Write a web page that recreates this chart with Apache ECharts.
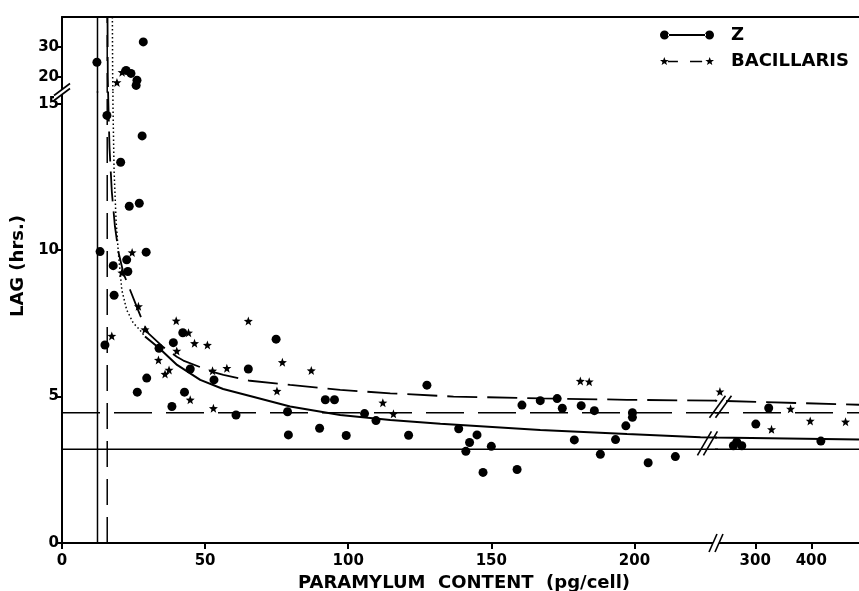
<!DOCTYPE html>
<html>
<head>
<meta charset="utf-8">
<title>Lag vs paramylum content</title>
<script src="https://cdn.jsdelivr.net/npm/echarts@6/dist/echarts.min.js"></script>
<style>
  html, body { margin: 0; padding: 0; background: #fff; }
  #main { width: 859px; height: 591px; }
</style>
</head>
<body>
<div id="main"></div>
<script>
// [paramylum content (pg/cell), lag (hrs.)]
var zPoints = [
  [15.7, 14.6], [28.0, 13.9], [20.5, 13.0], [23.5, 11.5], [27.0, 11.6], [13.3, 9.95],
  [29.4, 9.93], [22.6, 9.67], [17.9, 9.47], [23.0, 9.27], [18.2, 8.46], [15.0, 6.76],
  [42.2, 7.18], [38.9, 6.84], [33.9, 6.65], [44.8, 5.94], [65.1, 5.94], [29.6, 5.63],
  [53.1, 5.57], [26.3, 5.15], [42.8, 5.15], [38.4, 4.66], [60.8, 4.37], [74.8, 6.96],
  [92.0, 4.89], [95.2, 4.89], [127.5, 5.39], [78.8, 4.48], [105.7, 4.42], [109.7, 4.18],
  [90.0, 3.92], [79.1, 3.69], [99.3, 3.67], [121.1, 3.68], [138.6, 3.90], [145.0, 3.69],
  [142.4, 3.43], [141.1, 3.13], [150.0, 3.30], [147.1, 2.41], [159.0, 2.51], [160.7, 4.71],
  [167.1, 4.86], [173.0, 4.93], [174.8, 4.60], [181.4, 4.69], [186.0, 4.52], [199.3, 4.45],
  [199.3, 4.29], [197.0, 4.00], [179.0, 3.52], [193.4, 3.53], [188.1, 3.03], [204.8, 2.74],
  [214.3, 2.95],
  [301, 4.06], [261, 3.32], [276, 3.32], [267, 3.45], [324, 4.61], [417, 3.48],
  [12.2, 24.9], [28.4, 31.7], [22.4, 22.2], [24.1, 21.2], [26.2, 18.9], [25.9, 17.2]
];
var bacPoints = [
  [24.5, 9.92], [20.9, 9.23], [26.7, 8.08], [17.4, 7.07], [29.0, 7.29], [39.9, 7.59],
  [44.2, 7.18], [46.3, 6.82], [50.8, 6.76], [40.1, 6.56], [33.7, 6.25], [37.4, 5.91],
  [36.0, 5.77], [52.6, 5.88], [57.6, 5.97], [44.8, 4.89], [52.9, 4.60], [65.1, 7.58],
  [77.0, 6.17], [87.1, 5.89], [75.1, 5.19], [112.1, 4.79], [115.8, 4.41], [181.1, 5.53],
  [184.2, 5.51],
  [237, 5.17], [329, 3.88], [363, 4.58], [398, 4.17], [461, 4.14],
  [21.0, 21.6], [19.2, 18.2]
];
// fitted curves
var zFitDotted = [
  [17.6, 40], [17.7, 20], [17.8, 15], [17.9, 14.4], [18.2, 12.7], [18.9, 11.0], [19.7, 9.9],
  [20.9, 8.64], [22.6, 7.96], [24.9, 7.51], [27.0, 7.3], [29.0, 7.05]
];
var zFitSolid = [
  [29.0, 7.05], [33.9, 6.66], [40.2, 6.08], [48.3, 5.57], [56.3, 5.26], [65.7, 5.02],
  [79.7, 4.66], [97.2, 4.37], [114.7, 4.20], [132.2, 4.07], [167.1, 3.86], [197.4, 3.72],
  [223.1, 3.61], [228.5, 3.60], [230, 3.60], [485, 3.53]
];
var bacFit = [
  [15.9, 40], [16.0, 20], [16.1, 15.4], [16.6, 13.5], [17.4, 12.0], [18.5, 10.8], [19.8, 9.9],
  [21.5, 9.2], [23.8, 8.64], [26.1, 8.07], [28.4, 7.51], [30.2, 7.16], [35.0, 6.72],
  [40.1, 6.36], [42.4, 6.23], [52.3, 5.85], [56.4, 5.74], [65.7, 5.54], [79.7, 5.40],
  [97.2, 5.23], [114.7, 5.11], [136.8, 5.00], [167.1, 4.94], [197.4, 4.89], [228.5, 4.86],
  [230, 4.82], [485, 4.72]
];
// asymptotes: [paramylum, lag]
var zAsym = [12.4, 3.2];
var bacAsym = [15.8, 4.45];

var xLeft = [0, 228.5], xRight = [230, 485];
var yLow = [0, 15.4], yHigh = [15, 40];
var xTicksLeft = [0, 50, 100, 150, 200];
var xTicksRight = [300, 400];
var yTicksLow = [0, 5, 10, 15];
var yTicksHigh = [20, 30];

var FONT = 'DejaVu Sans';
var xRanges = [xLeft, xLeft, xRight, xRight];
var yRanges = [yLow, yHigh, yLow, yHigh];
var boxes = [
  { left: 62, top: 92, width: 654, height: 451 },
  { left: 62, top: 17, width: 654, height: 75 },
  { left: 716, top: 92, width: 143, height: 451 },
  { left: 716, top: 17, width: 143, height: 75 }
];

function region(p) {
  var g = p[0] > xLeft[1] ? 2 : 0;
  return p[1] > yLow[1] ? g + 1 : g;
}

function starPath(cx, cy, R, r) {
  var s = '';
  for (var i = 0; i < 10; i++) {
    var a = (-90 + i * 36) * Math.PI / 180;
    var rad = i % 2 ? r : R;
    s += (i ? 'L' : 'M') + (cx + rad * Math.cos(a)).toFixed(2) + ',' + (cy + rad * Math.sin(a)).toFixed(2);
  }
  return s + 'Z';
}
var starSymbol = 'path://' + starPath(50, 50, 50, 21);
var zIcon = 'path://M0,5a4.5,4.5 0 1,0 9,0a4.5,4.5 0 1,0 -9,0z M8,4.1L46,4.1L46,5.9L8,5.9z M45,5a4.5,4.5 0 1,0 9,0a4.5,4.5 0 1,0 -9,0z';
var bacIcon = 'path://' + starPath(4.5, 5, 4.5, 1.9) + ' M8,4.2L18,4.2L18,5.8L8,5.8z M30,4.2L42,4.2L42,5.8L30,5.8z ' + starPath(49.5, 5, 4.5, 1.9);

var grids = [], xAxes = [], yAxes = [], series = [];
for (var g = 0; g < 4; g++) {
  var isLow = g % 2 === 0, isLeft = g < 2;
  grids.push(Object.assign({ containLabel: false, outerBoundsMode: 'none' }, boxes[g]));
  xAxes.push({
    gridIndex: g, type: 'value', min: xRanges[g][0], max: xRanges[g][1],
    position: isLow ? 'bottom' : 'top',
    axisLine: { show: true, onZero: false, lineStyle: { color: '#000', width: 2 } },
    axisTick: { show: isLow, customValues: isLeft ? xTicksLeft : xTicksRight, length: 6,
      lineStyle: { color: '#000', width: 2 } },
    axisLabel: { show: isLow, customValues: isLeft ? xTicksLeft : xTicksRight, color: '#000',
      fontFamily: FONT, fontWeight: 'bold', fontSize: 15, margin: 11 },
    splitLine: { show: false },
    name: g === 0 ? 'PARAMYLUM  CONTENT  (pg/cell)' : '',
    nameLocation: 'middle', nameGap: 27,
    nameTextStyle: { color: '#000', fontFamily: FONT, fontWeight: 'bold', fontSize: 18, padding: [0, 0, 0, 150] }
  });
  yAxes.push({
    gridIndex: g, type: 'value', min: yRanges[g][0], max: yRanges[g][1], show: isLeft,
    axisLine: { show: true, onZero: false, lineStyle: { color: '#000', width: 2 } },
    axisTick: { show: true, customValues: isLow ? yTicksLow : yTicksHigh, length: 6,
      lineStyle: { color: '#000', width: 2 } },
    axisLabel: { show: true, customValues: isLow ? yTicksLow : yTicksHigh, color: '#000',
      fontFamily: FONT, fontWeight: 'bold', fontSize: 15, margin: 3 },
    splitLine: { show: false },
    name: g === 0 ? 'LAG (hrs.)' : '',
    nameLocation: 'middle', nameRotate: 90, nameGap: 30,
    nameTextStyle: { color: '#000', fontFamily: FONT, fontWeight: 'bold', fontSize: 18, padding: [0, 0, 0, 103] }
  });

  var ax = { xAxisIndex: g, yAxisIndex: g };
  function line(name, data, style) {
    series.push(Object.assign({
      type: 'line', name: name, data: data, showSymbol: false, symbol: 'none',
      silent: true, clip: true, lineStyle: Object.assign({ color: '#000', opacity: 1 }, style)
    }, ax));
  }
  line('z asymptote x', [[zAsym[0], yLow[0]], [zAsym[0], yHigh[1]]], { width: 1.5 });
  line('bac asymptote x', [[bacAsym[0], yLow[0]], [bacAsym[0], yHigh[1]]], { width: 1.5, type: [26, 12] });
  line('z asymptote y', [[xLeft[0], zAsym[1]], [xRight[1], zAsym[1]]], { width: 1.5 });
  line('bac asymptote y', [[xLeft[0], bacAsym[1]], [xRight[1], bacAsym[1]]], { width: 1.5, type: [38, 14] });
  line('z fit dotted', zFitDotted, { width: 1.5, type: [1.5, 2.5] });
  line('z fit', zFitSolid, { width: 2 });
  line('bac fit', bacFit, { width: 1.8, type: [30, 10] });

  series.push(Object.assign({
    type: 'scatter', name: 'Z', symbol: 'circle', symbolSize: 9,
    itemStyle: { color: '#000', opacity: 1 },
    data: zPoints.filter(function (p) { return region(p) === g; })
  }, ax));
  series.push(Object.assign({
    type: 'scatter', name: 'BACILLARIS', symbol: starSymbol, symbolSize: 9,
    itemStyle: { color: '#000', opacity: 1 },
    data: bacPoints.filter(function (p) { return region(p) === g; })
  }, ax));
}

var chart = echarts.init(document.getElementById('main'));
chart.setOption({
  animation: false,
  backgroundColor: '#fff',
  grid: grids,
  xAxis: xAxes,
  yAxis: yAxes,
  legend: {
    orient: 'vertical', left: 655, top: 21, itemWidth: 54, itemHeight: 9, itemGap: 8,
    selectedMode: false,
    textStyle: { color: '#000', fontFamily: FONT, fontWeight: 'bold', fontSize: 18, padding: [0, 0, 0, 12] },
    data: [{ name: 'Z', icon: zIcon }, { name: 'BACILLARIS', icon: bacIcon }]
  },
  series: series
});

// axis / curve break marks, anchored to the axes
function slashes(c, halfW, halfH, off, band) {
  var out = [];
  if (band) {
    out.push({
      type: 'polygon', z: 100,
      shape: { points: [
        [c[0] - off[0] - halfW, c[1] - off[1] + halfH], [c[0] + off[0] - halfW, c[1] + off[1] + halfH],
        [c[0] + off[0] + halfW, c[1] + off[1] - halfH], [c[0] - off[0] + halfW, c[1] - off[1] - halfH]
      ] },
      style: { fill: '#fff' }
    });
  }
  [-1, 1].forEach(function (s) {
    var x = c[0] + s * off[0], y = c[1] + s * off[1];
    out.push({
      type: 'line', z: 101,
      shape: { x1: x - halfW, y1: y + halfH, x2: x + halfW, y2: y - halfH },
      style: { stroke: '#000', lineWidth: 1.6 }
    });
  });
  return out;
}
var gfx = [];
gfx = gfx.concat(slashes(chart.convertToPixel({ gridIndex: 0 }, [xLeft[0], yLow[1]]), 8, 6, [0, 2.5], true));
gfx = gfx.concat(slashes(chart.convertToPixel({ gridIndex: 0 }, [xLeft[1], yLow[0]]), 4, 9, [3, 0], true));
gfx = gfx.concat(slashes(chart.convertToPixel({ gridIndex: 0 }, [225.5, 3.4]), 7, 12, [3, 0], false));
gfx = gfx.concat(slashes(chart.convertToPixel({ gridIndex: 2 }, [238, 4.65]), 8, 11, [3, 0], false));
chart.setOption({ graphic: gfx });
</script>
</body>
</html>
